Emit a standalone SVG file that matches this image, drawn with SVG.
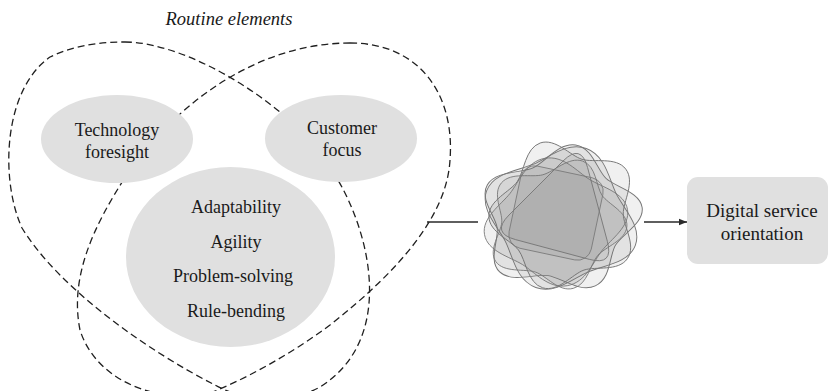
<svg xmlns="http://www.w3.org/2000/svg" width="829" height="391" viewBox="0 0 829 391">
  <style>
    .loop { fill: none; stroke: #1f1f1f; stroke-width: 1.3; stroke-dasharray: 7 4; }
    .node { fill: #e0e0e0; }
    .label { font-family: "Liberation Serif", "Times New Roman", serif; font-size: 18px; fill: #1a1a1a; text-anchor: middle; }
    .title { font-style: italic; font-size: 18.5px; }
    .blob { fill: #6e6e6e; fill-opacity: 0.1; stroke: #777777; stroke-width: 0.8; }
    .edge { fill: none; stroke: #2a2a2a; stroke-width: 1.4; }
  </style>
  <defs>
    <marker id="arrow" viewBox="0 0 10 10" refX="10" refY="5" markerWidth="8" markerHeight="8" markerUnits="userSpaceOnUse" orient="auto">
      <path d="M0,1 L10,5 L0,9 Z" fill="#2a2a2a"/>
    </marker>
    <!-- five-lobed wavy outline -->
    <path id="wave5" d="M68,0 C68,14.36 48.53,21.7 42.07,30.58 C35.61,39.46 34.67,60.23 21.01,64.67 C7.35,69.11 -5.63,52.84 -16.07,49.45 C-26.51,46.06 -46.57,51.6 -55.01,39.98 C-63.45,28.36 -52,10.98 -52,0 C-52,-10.98 -63.45,-28.36 -55.01,-39.98 C-46.57,-51.6 -26.51,-46.06 -16.07,-49.45 C-5.63,-52.84 7.35,-69.11 21.01,-64.67 C34.67,-60.23 35.61,-39.46 42.07,-30.58 C48.53,-21.7 68,-14.36 68,0 Z"/>
    <!-- four-lobed wavy outline -->
    <path id="wave4" d="M66,0 C66,17.5 46.52,27.02 36.77,36.77 C27.02,46.52 17.5,66 0,66 C-17.5,66 -27.02,46.52 -36.77,36.77 C-46.52,27.02 -66,17.5 -66,0 C-66,-17.5 -46.52,-27.02 -36.77,-36.77 C-27.02,-46.52 -17.5,-66 0,-66 C17.5,-66 27.02,-46.52 36.77,-36.77 C46.52,-27.02 66,-17.5 66,0 Z"/>
    <!-- rounded triangle -->
    <path id="tri" d="M12.12,-49 L48.5,14 Q60.62,35 36.37,35 L-36.37,35 Q-60.62,35 -48.5,14 L-12.12,-49 Q0,-70 12.12,-49 Z"/>
  </defs>
  <rect width="829" height="391" fill="#ffffff"/>

  <text class="label title" x="229" y="25">Routine elements</text>

  <!-- two overlapping dashed loops enclosing the routine elements -->
  <g id="routine-loops">
    <path class="loop" d="M125,42 C190,42 300,110 335,175 C372,235 395,340 320,387 C290,404 245,402 215,385 C150,352 60,290 22,228 C0,180 3,90 50,57 C75,45 100,42 125,42 Z"/>
    <path class="loop" d="M350,43 C420,43 455,95 450,160 C447,215 400,270 330,325 C290,355 240,382 205,395 C150,402 95,378 80,330 C70,280 90,230 130,170 C180,100 260,43 350,43 Z"/>
  </g>

  <g id="connectors">
    <line class="edge" x1="427" y1="222" x2="478" y2="222"/>
    <line class="edge" x1="644" y1="222" x2="687" y2="222" marker-end="url(#arrow)"/>
  </g>

  <g id="technology-foresight">
    <ellipse class="node" cx="117" cy="139" rx="76" ry="44"/>
    <text class="label" x="117" y="136">Technology</text>
    <text class="label" x="117" y="158">foresight</text>
  </g>

  <g id="customer-focus">
    <ellipse class="node" cx="341" cy="138.5" rx="76" ry="43.5"/>
    <text class="label" x="342" y="134">Customer</text>
    <text class="label" x="342" y="156">focus</text>
  </g>

  <g id="core-routines">
    <ellipse class="node" cx="230.5" cy="257" rx="104.5" ry="90"/>
    <text class="label" x="236" y="213">Adaptability</text>
    <text class="label" x="236" y="248">Agility</text>
    <text class="label" x="233" y="282">Problem-solving</text>
    <text class="label" x="236" y="317">Rule-bending</text>
  </g>

  <!-- layered translucent wavy outlines forming the combined cluster -->
  <g id="cluster">
    <use href="#wave5" class="blob" transform="translate(560,219) rotate(-8) scale(1.22,1.1)"/>
    <use href="#wave4" class="blob" transform="translate(561,218) rotate(20) scale(1.2,1.12)"/>
    <use href="#wave5" class="blob" transform="translate(565,215) rotate(35) scale(1.12,1.12)"/>
    <use href="#wave4" class="blob" transform="translate(556,222) rotate(-10) scale(1.1,0.98)"/>
    <use href="#wave5" class="blob" transform="translate(556,224) rotate(75) scale(0.98,1.05)"/>
    <use href="#tri" class="blob" transform="translate(562,214) rotate(15) scale(1.05)"/>
    <rect class="blob" x="-42" y="-42" width="84" height="84" rx="14" transform="translate(556,213) rotate(12)"/>
  </g>

  <g id="digital-service-orientation">
    <rect class="node" x="687" y="177" width="141" height="87" rx="11"/>
    <text class="label" x="762" y="217" style="font-size:19px">Digital service</text>
    <text class="label" x="762" y="240" style="font-size:19px">orientation</text>
  </g>
</svg>
